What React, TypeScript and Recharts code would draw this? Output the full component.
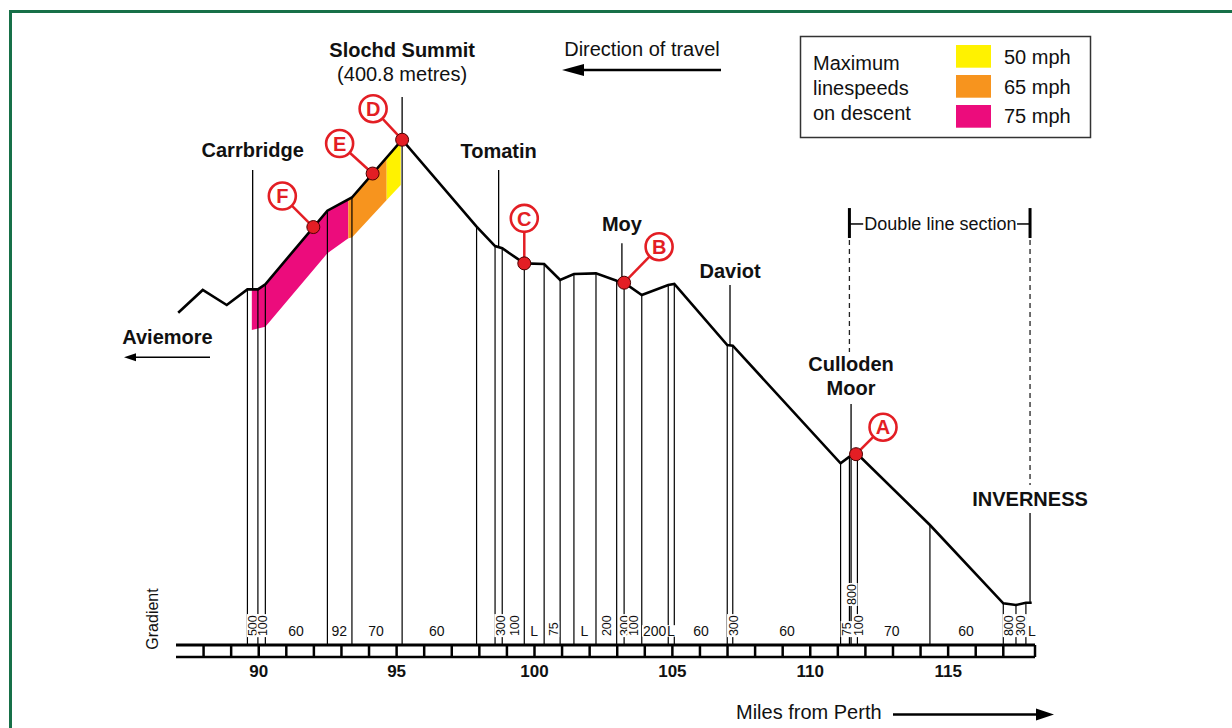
import React from 'react'
import { ComposedChart, Line, Area, XAxis, YAxis, ReferenceLine, ReferenceDot } from 'recharts'

const FONT = '"Liberation Sans", Arial, Helvetica, sans-serif'
const RED = '#e31e24'
const GREEN = '#177048'
const PINK = '#ec0c7c'
const ORANGE = '#f7941e'
const YELLOW = '#fff200'

const X_MIN = 87
const X_MAX = 118.15
const Y_MIN = -25
const Y_MAX = 500

// line profile: miles from Perth / height in metres
const PROFILE_MILES = [87.08, 87.97, 88.84, 89.59, 89.97, 90.24, 92.49, 93.38, 95.2, 97.9, 98.57, 98.83, 99.63, 100.35, 100.93, 101.43, 102.23, 102.98, 103.25, 103.89, 104.85, 105.07, 106.99, 107.19, 111.1, 111.42, 111.71, 114.34, 117.0, 117.46, 117.82, 118.03]
const PROFILE_ELEV = [255, 274.2, 261.5, 274.7, 274.7, 279, 341, 352.1, 400.8, 327.5, 311.2, 309.3, 296.6, 296.1, 282.6, 287.6, 288.2, 282, 280.3, 269.9, 278.4, 279.2, 227.8, 227.2, 128.1, 133.7, 136, 76.1, 10.1, 8.7, 10.6, 10.6]

// gradient change posts
const POST_MILES = [89.59, 89.97, 90.24, 92.49, 93.38, 95.2, 97.9, 98.57, 98.83, 99.63, 100.35, 100.93, 101.43, 102.23, 102.98, 103.25, 103.89, 104.85, 105.07, 106.99, 107.19, 111.1, 111.42, 111.71, 114.34, 117.0, 117.46, 117.82]

// gradient labels (1 in N)
const GRAD_MILES = [89.79, 90.14, 91.35, 92.92, 94.25, 96.46, 98.76, 99.27, 99.99, 100.68, 101.81, 102.62, 103.25, 103.58, 104.36, 104.95, 106.04, 107.2, 109.16, 111.32, 111.5, 111.74, 112.96, 115.65, 117.19, 117.64, 118.04]
const GRAD_TEXT = ['500', '100', '60', '92', '70', '60', '300', '100', 'L', '75', 'L', '200', '300', '100', '200', 'L', '60', '300', '60', '75', '800', '100', '70', '60', '800', '300', 'L']
const GRAD_VERTICAL = [1, 1, 0, 0, 0, 0, 1, 1, 0, 1, 0, 1, 1, 1, 0, 0, 0, 1, 0, 1, 1, 1, 0, 0, 1, 1, 0]
const GRAD_ROW = [0, 0, 0, 0, 0, 0, 0, 0, 0, 0, 0, 0, 0, 0, 0, 0, 0, 0, 0, 0, 1, 0, 0, 0, 0, 0, 0]

// linespeed bands on the descent
const PINK_MILES = [89.75, 89.97, 90.24, 92.49, 93.25]
const PINK_LOW = [240.4, 241.7, 243.2, 305.1, 317.7]
const PINK_HIGH = [274.7, 274.7, 279, 341, 350.5]
const ORANGE_MILES = [93.25, 93.38, 94.64]
const ORANGE_LOW = [317.7, 318.5, 350]
const ORANGE_HIGH = [350.5, 352.1, 385.8]
const YELLOW_MILES = [94.64, 95.15]
const YELLOW_LOW = [350, 362.6]
const YELLOW_HIGH = [385.8, 399.5]

// stations
const STATION_NAMES = [['Carrbridge'], ['Slochd Summit', '(400.8 metres)'], ['Tomatin'], ['Moy'], ['Daviot'], ['Culloden', 'Moor'], ['INVERNESS']]
const STATION_MILES = [89.78, 95.2, 98.7, 103.17, 107.09, 111.48, 117.97]
const STATION_TOP = [375.3, 436.8, 375.3, 313.5, 278.4, 178.1, 86.2]
const STATION_FOOT = [274.7, 400.8, 310.3, 280.8, 227.5, -25, 10.6]
const STATION_DY = [[-13], [-40, -16], [-12], [-12.5], [-7], [-33.3, -9], [-7]]

// lettered locations
const MARKER_LETTERS = ['A', 'B', 'C', 'D', 'E', 'F']
const MARKER_MILES = [111.66, 103.25, 99.63, 95.2, 94.13, 91.98]
const MARKER_ELEV = [135.8, 280.3, 296.6, 400.8, 372.3, 327.2]
const MARKER_OFFSET = [[27, -27], [35, -36], [0, -45], [-29, -31], [-33, -30], [-31, -31]]

const DOUBLE_START = 111.42
const DOUBLE_END = 117.97

const RULER_TICKS = [88, 89, 90, 91, 92, 93, 94, 95, 96, 97, 98, 99, 100, 101, 102, 103, 104, 105, 106, 107, 108, 109, 110, 111, 112, 113, 114, 115, 116, 117, 118.15]
const MILE_LABELS = [90, 95, 100, 105, 110, 115]

const LEGEND_TEXT = ['Maximum', 'linespeeds', 'on descent']
const LEGEND_SPEEDS = ['50 mph', '65 mph', '75 mph']
const LEGEND_COLORS = [YELLOW, ORANGE, PINK]

const GradLabel = ({ cx, cy, text, vertical }: any) => {
  const fs = vertical ? 12.5 : 14
  const len = text.length * fs * 0.56
  if (vertical) {
    return (
      <g transform={`rotate(-90 ${cx} ${cy})`}>
        <rect x={cx - 1} y={cy - fs * 0.48} width={len + 2} height={fs * 0.96} fill="#fff" />
        <text x={cx} y={cy} dy="0.36em" fontSize={fs} fill="#111">{text}</text>
      </g>
    )
  }
  return (
    <g>
      <rect x={cx - len / 2 - 1} y={cy - fs * 0.78} width={len + 2} height={fs * 0.82} fill="#fff" />
      <text x={cx} y={cy} textAnchor="middle" fontSize={fs} fill="#111">{text}</text>
    </g>
  )
}

const StationLabel = ({ cx, cy, lines, dys }: any) => (
  <g>
    {lines.map((t: string, i: number) => (
      <text key={i} x={cx} y={cy + dys[i]} textAnchor="middle" fontSize={20}
        fontWeight={t.startsWith('(') ? 'normal' : 'bold'} fill="#111">{t}</text>
    ))}
  </g>
)

const Marker = ({ cx, cy, letter, off }: any) => {
  const lx = cx + off[0]
  const ly = cy + off[1]
  return (
    <g>
      <line x1={cx} y1={cy} x2={lx} y2={ly} stroke={RED} strokeWidth={2.5} />
      <circle cx={lx} cy={ly} r={13.5} fill="#fff" stroke={RED} strokeWidth={2.6} />
      <text x={lx} y={ly} dy="0.36em" textAnchor="middle" fontSize={20} fontWeight="bold" fill={RED}>{letter}</text>
      <circle cx={cx} cy={cy} r={6.5} fill={RED} stroke="#4a0000" strokeWidth={1} />
    </g>
  )
}

const MileTick = ({ x, y, payload }: any) => (
  <text x={x} y={y + 20} textAnchor="middle" fontSize={17} fontWeight="bold" fill="#111">{payload.value}</text>
)

export default function App() {
  const profileData = PROFILE_MILES.map((m, i) => ({ mile: m, elev: PROFILE_ELEV[i] }))
  const band = (miles: number[], low: number[], high: number[]) =>
    miles.map((m, i) => ({ mile: m, range: [low[i], high[i]] }))
  const elevAt = (m: number) => PROFILE_ELEV[PROFILE_MILES.indexOf(m)]
  const bracketMid = 329.8

  return (
    <div style={{ position: 'relative', width: 1232, height: 728, overflow: 'hidden', background: '#fff', fontFamily: FONT }}>
      <style>{'body{margin:0}'}</style>
      <div style={{ position: 'absolute', left: 9, top: 10, width: 1260, height: 760, border: `3px solid ${GREEN}`, boxSizing: 'border-box' }} />
      <div style={{ position: 'absolute', left: 0, top: 0 }}>
        <ComposedChart width={1232} height={728} margin={{ top: 22, right: 197, bottom: 31, left: 176 }}>
          <XAxis xAxisId={0} type="number" dataKey="mile" domain={[X_MIN, X_MAX]} allowDataOverflow
            ticks={RULER_TICKS} interval={0} height={12} tickSize={12} tickMargin={0}
            axisLine={{ stroke: '#000', strokeWidth: 3 }} tickLine={{ stroke: '#000', strokeWidth: 2.5 }}
            tick={() => <g />} />
          <XAxis xAxisId="lbl" type="number" dataKey="mile" domain={[X_MIN, X_MAX]} allowDataOverflow
            ticks={MILE_LABELS} interval={0} height={40} tickSize={0} tickMargin={0}
            axisLine={{ stroke: '#000', strokeWidth: 2.5 }} tickLine={false} tick={<MileTick />} />
          <YAxis hide width={0} type="number" domain={[Y_MIN, Y_MAX]} allowDataOverflow />

          <Area data={band(PINK_MILES, PINK_LOW, PINK_HIGH)} dataKey="range" type="linear" stroke="none"
            fill={PINK} fillOpacity={1} dot={false} activeDot={false} isAnimationActive={false} />
          <Area data={band(ORANGE_MILES, ORANGE_LOW, ORANGE_HIGH)} dataKey="range" type="linear" stroke="none"
            fill={ORANGE} fillOpacity={1} dot={false} activeDot={false} isAnimationActive={false} />
          <Area data={band(YELLOW_MILES, YELLOW_LOW, YELLOW_HIGH)} dataKey="range" type="linear" stroke="none"
            fill={YELLOW} fillOpacity={1} dot={false} activeDot={false} isAnimationActive={false} />

          {POST_MILES.map((m) => (
            <ReferenceLine key={'p' + m} ifOverflow="visible" stroke="#000" strokeWidth={1.2}
              segment={[{ x: m, y: Y_MIN }, { x: m, y: elevAt(m) }]} />
          ))}
          {STATION_MILES.map((m, i) => (
            <ReferenceLine key={'s' + m} ifOverflow="visible" stroke="#000" strokeWidth={1.3}
              segment={[{ x: m, y: STATION_FOOT[i] }, { x: m, y: STATION_TOP[i] }]} />
          ))}

          <ReferenceLine ifOverflow="visible" stroke="#222" strokeWidth={1.3} strokeDasharray="5 4"
            segment={[{ x: DOUBLE_START, y: 316.3 }, { x: DOUBLE_START, y: 221.9 }]} />
          <ReferenceLine ifOverflow="visible" stroke="#222" strokeWidth={1.3} strokeDasharray="5 4"
            segment={[{ x: DOUBLE_END, y: 316.3 }, { x: DOUBLE_END, y: 109.8 }]} />
          <ReferenceLine ifOverflow="visible" stroke="#000" strokeWidth={3}
            segment={[{ x: DOUBLE_START, y: 318 }, { x: DOUBLE_START, y: 343.2 }]} />
          <ReferenceLine ifOverflow="visible" stroke="#000" strokeWidth={3}
            segment={[{ x: DOUBLE_END, y: 318 }, { x: DOUBLE_END, y: 343.2 }]} />
          <ReferenceLine ifOverflow="visible" stroke="#000" strokeWidth={1.5}
            segment={[{ x: DOUBLE_START, y: bracketMid }, { x: 111.92, y: bracketMid }]} />
          <ReferenceLine ifOverflow="visible" stroke="#000" strokeWidth={1.5}
            segment={[{ x: 117.5, y: bracketMid }, { x: DOUBLE_END, y: bracketMid }]} />
          <ReferenceDot x={114.72} y={bracketMid} r={0} ifOverflow="visible"
            shape={(p: any) => (
              <text x={p.cx} y={p.cy} dy="0.36em" textAnchor="middle" fontSize={18} fill="#111">Double line section</text>
            )} />

          {GRAD_MILES.map((m, i) => (
            <ReferenceDot key={'g' + i} x={m} y={GRAD_ROW[i] ? 8.7 : -17.5} r={0} ifOverflow="visible"
              shape={(p: any) => <GradLabel cx={p.cx} cy={p.cy} text={GRAD_TEXT[i]} vertical={!!GRAD_VERTICAL[i]} />} />
          ))}

          {STATION_MILES.map((m, i) => (
            <ReferenceDot key={'n' + i} x={m} y={STATION_TOP[i]} r={0} ifOverflow="visible"
              shape={(p: any) => <StationLabel cx={p.cx} cy={p.cy} lines={STATION_NAMES[i]} dys={STATION_DY[i]} />} />
          ))}

          <Line data={profileData} dataKey="elev" type="linear" stroke="#000" strokeWidth={2.6}
            dot={false} activeDot={false} isAnimationActive={false} />

          {MARKER_LETTERS.map((l, i) => (
            <ReferenceDot key={'m' + l} x={MARKER_MILES[i]} y={MARKER_ELEV[i]} r={0} ifOverflow="visible"
              shape={(p: any) => <Marker cx={p.cx} cy={p.cy} letter={l} off={MARKER_OFFSET[i]} />} />
          ))}
        </ComposedChart>
      </div>

      <svg width={1232} height={728} style={{ position: 'absolute', left: 0, top: 0, pointerEvents: 'none' }}>
        <text x={642} y={56} textAnchor="middle" fontSize={20} fill="#111">Direction of travel</text>
        <line x1={721} y1={70} x2={580} y2={70} stroke="#000" strokeWidth={2.5} />
        <polygon points="562,70 584,64 584,76" fill="#000" />

        <rect x={800.5} y={36.5} width={290} height={101} fill="#fff" stroke="#333" strokeWidth={1.5} />
        {LEGEND_TEXT.map((t, i) => (
          <text key={t} x={813} y={69.5 + i * 25} fontSize={20} fill="#111">{t}</text>
        ))}
        {LEGEND_SPEEDS.map((t, i) => (
          <g key={t}>
            <rect x={956} y={45 + i * 30} width={35} height={22.7} fill={LEGEND_COLORS[i]} />
            <text x={1004} y={64.3 + i * 29.5} fontSize={20} fill="#111">{t}</text>
          </g>
        ))}

        <text x={167.5} y={344} textAnchor="middle" fontSize={20} fontWeight="bold" fill="#111">Aviemore</text>
        <line x1={210} y1={357.3} x2={134} y2={357.3} stroke="#000" strokeWidth={1.5} />
        <polygon points="124,357.3 136,353.3 136,361.3" fill="#000" />

        <text transform="translate(152 619) rotate(-90)" x={0} y={0} dy="0.36em" textAnchor="middle" fontSize={16} fill="#111">Gradient</text>

        <text x={736} y={719} fontSize={20} fill="#111">Miles from Perth</text>
        <line x1={893} y1={714.5} x2={1038} y2={714.5} stroke="#000" strokeWidth={2.5} />
        <polygon points="1054,714.5 1036,708.5 1036,720.5" fill="#000" />
      </svg>
    </div>
  )
}
